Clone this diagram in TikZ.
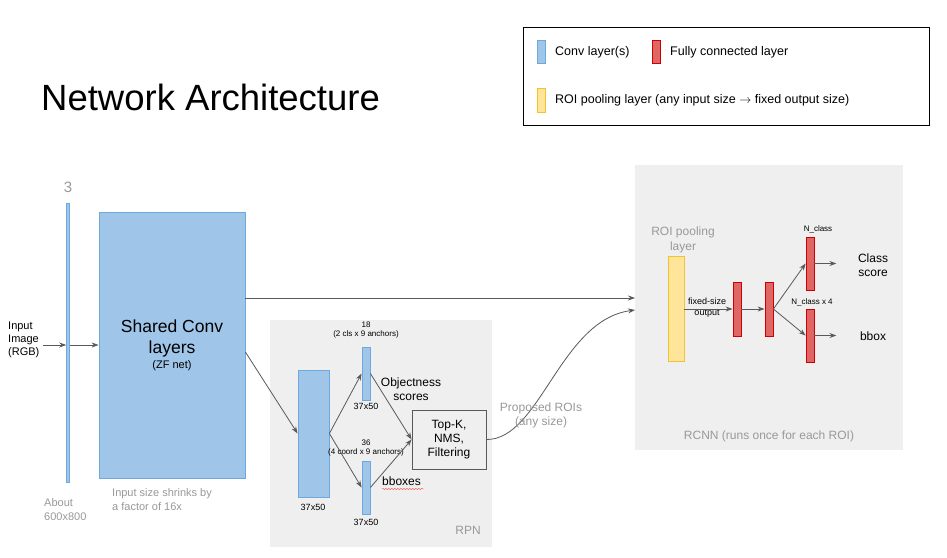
\documentclass[tikz,border=0pt]{standalone}
\usepackage{fontspec}
\setmainfont{Liberation Sans}
\usetikzlibrary{arrows.meta,decorations.pathmorphing}
\definecolor{cblue}{HTML}{9FC5E8}\definecolor{cblueb}{HTML}{6FA8DC}
\definecolor{cred}{HTML}{E06666}\definecolor{credb}{HTML}{CC0000}
\definecolor{cyel}{HTML}{FFE599}\definecolor{cyelb}{HTML}{F1C232}
\definecolor{panel}{HTML}{EFEFEF}\definecolor{gtxt}{HTML}{999999}\definecolor{arr}{HTML}{595959}
\begin{document}
\begin{tikzpicture}[x=1pt,y=-1pt,
 conv/.style={fill=cblue,draw=cblueb,line width=0.8pt},
 fc/.style={fill=cred,draw=credb,line width=0.8pt},
 roi/.style={fill=cyel,draw=cyelb,line width=0.8pt},
 pnl/.style={fill=panel,draw=none},
 ar/.style={draw=arr,line width=0.8pt,-{Stealth[length=7pt,width=5pt]}},
 t/.style={font=\fontsize{12}{14}\selectfont,align=center,inner sep=0pt},
 s/.style={font=\fontsize{8}{9.5}\selectfont,align=center,inner sep=0pt},
 g/.style={t,text=gtxt}]
\useasboundingbox (0,0) rectangle (947,557);
\fill[white] (0,0) rectangle (947,557);
% legend
\draw[line width=0.8pt] (523,27) rectangle (929,125);
\draw[conv] (537,40) rectangle (545,63);
\node[t,anchor=west,font=\fontsize{12.5}{14}\selectfont] at (555,52) {Conv layer(s)};
\draw[fc] (652,40) rectangle (660,63);
\node[t,anchor=west,font=\fontsize{12.5}{14}\selectfont] at (670,52) {Fully connected layer};
\draw[roi] (537,88) rectangle (545,112);
\node[t,anchor=west,font=\fontsize{12.5}{14}\selectfont] at (555,100) {ROI pooling layer (any input size $\rightarrow$ fixed output size)};
\node[anchor=west,inner sep=0pt,font=\fontsize{36.5}{40}\selectfont] (title) at (41,97) {Network Architecture};
% panels
\fill[pnl] (270,320) rectangle (492,547);
\fill[pnl] (635,165) rectangle (903,450);
\node[g] (rpnl) at (468,530) {RPN};
\node[g] (rcnnl) at (769,436) {RCNN (runs once for each ROI)};
% input
\node[g,font=\fontsize{15}{16}\selectfont] (three) at (68,187) {3};
\node[conv,minimum width=3pt,minimum height=279pt,inner sep=0pt,line width=0.6pt] (inp) at (68,342.5) {};
\node[t,font=\fontsize{11}{13}\selectfont,anchor=west,align=left] (intxt) at (8,340) {Input\\Image\\(RGB)};
\coordinate (inA) at (43,345);
\draw[ar] (inA) -- (inp.west |- inA);
\node[g,anchor=north west,align=left,font=\fontsize{11}{14}\selectfont] (about) at (44,498) {About\\600x800};
% shared conv
\node[conv,minimum width=146pt,minimum height=266pt,inner sep=0pt] (shared) at (172,345) {};
\node[t,font=\fontsize{17.5}{21}\selectfont] (sharedt) at (172,338) {Shared Conv\\layers};
\node[t,font=\fontsize{11}{12}\selectfont] (zf) at (172,366) {(ZF net)};
\draw[ar] (inp.east |- inA) -- (shared.west |- inA);
\node[g,anchor=north west,align=left,font=\fontsize{11}{14}\selectfont] (shrink) at (112,488) {Input size shrinks by\\a factor of 16x};
% RPN
\node[conv,minimum width=31pt,minimum height=127pt,inner sep=0pt] (rpnc) at (313.5,433.5) {};
\node[s,font=\fontsize{9}{10}\selectfont] (r1) at (313,507) {37x50};
\draw[ar] (shared.east |- 0,352) -- (rpnc.west);
\node[conv,minimum width=8pt,minimum height=53pt,inner sep=0pt] (cls) at (366,373.5) {};
\node[conv,minimum width=8pt,minimum height=53pt,inner sep=0pt] (reg) at (366,487.5) {};
\node[s] (c18) at (366,330) {18\\[-1pt](2 cls x 9 anchors)};
\node[s,font=\fontsize{9}{10}\selectfont] (c3750) at (366,406) {37x50};
\node[s] (c36) at (366,448) {36\\[-1pt](4 coord x 9 anchors)};
\node[s,font=\fontsize{9}{10}\selectfont] (r3750) at (366,522) {37x50};
\node[t] (objs) at (411,389) {Objectness\\scores};
\node[t,anchor=west] (bbx) at (382,481) {bboxes};
\draw[red!70,line width=0.4pt,decorate,decoration={snake,amplitude=0.7pt,segment length=3pt}] (382,489) -- (424,489);
\node[draw=arr,line width=0.8pt,fill=panel,minimum width=74pt,minimum height=59pt,t] (topk) at (449,439.5) {Top-K,\\NMS,\\Filtering};
\draw[ar] (rpnc.east) -- (cls.west);
\draw[ar] (rpnc.east) -- (reg.west);
\draw[ar] (cls.east) -- (topk.west);
\draw[ar] (reg.east) -- (topk.west);
% RCNN
\node[g,font=\fontsize{12}{15}\selectfont] (roil) at (683,240) {ROI pooling\\layer};
\node[roi,minimum width=16pt,minimum height=105pt,inner sep=0pt] (roib) at (676,308.5) {};
\node[s,font=\fontsize{9}{11}\selectfont] (fso) at (707,308) {fixed-size\\output};
\node[fc,minimum width=8pt,minimum height=54pt,inner sep=0pt] (fc1) at (737,309) {};
\node[fc,minimum width=8pt,minimum height=54pt,inner sep=0pt] (fc2) at (769,309) {};
\node[fc,minimum width=8pt,minimum height=53pt,inner sep=0pt] (fc3) at (810,263.5) {};
\node[fc,minimum width=8pt,minimum height=53pt,inner sep=0pt] (fc4) at (810,335.5) {};
\node[s] (nc) at (818,229) {N\_class};
\node[s] (nc4) at (812,302) {N\_class x 4};
\node[t] (cs) at (873,265) {Class\\score};
\node[t] (bb) at (873,336) {bbox};
\coordinate (r1in) at (635,298);
\coordinate (r2in) at (635,310);
\draw[ar] (shared.east |- r1in) -- (r1in);
\draw[ar] (topk.east) .. controls (540,440) and (560,320) .. (r2in);
\node[g] (prop) at (541,415) {Proposed ROIs\\(any size)};
\draw[ar] (roib.east |- fc1) -- (fc1.west);
\draw[ar] (fc1.east) -- (fc2.west);
\draw[ar] (fc2.east) -- (fc3.west);
\draw[ar] (fc2.east) -- (fc4.west);
\draw[ar] (fc3.east) -- ++(22,0) coordinate (o1);
\draw[ar] (fc4.east) -- ++(22,0) coordinate (o2);
\end{tikzpicture}
\end{document}
